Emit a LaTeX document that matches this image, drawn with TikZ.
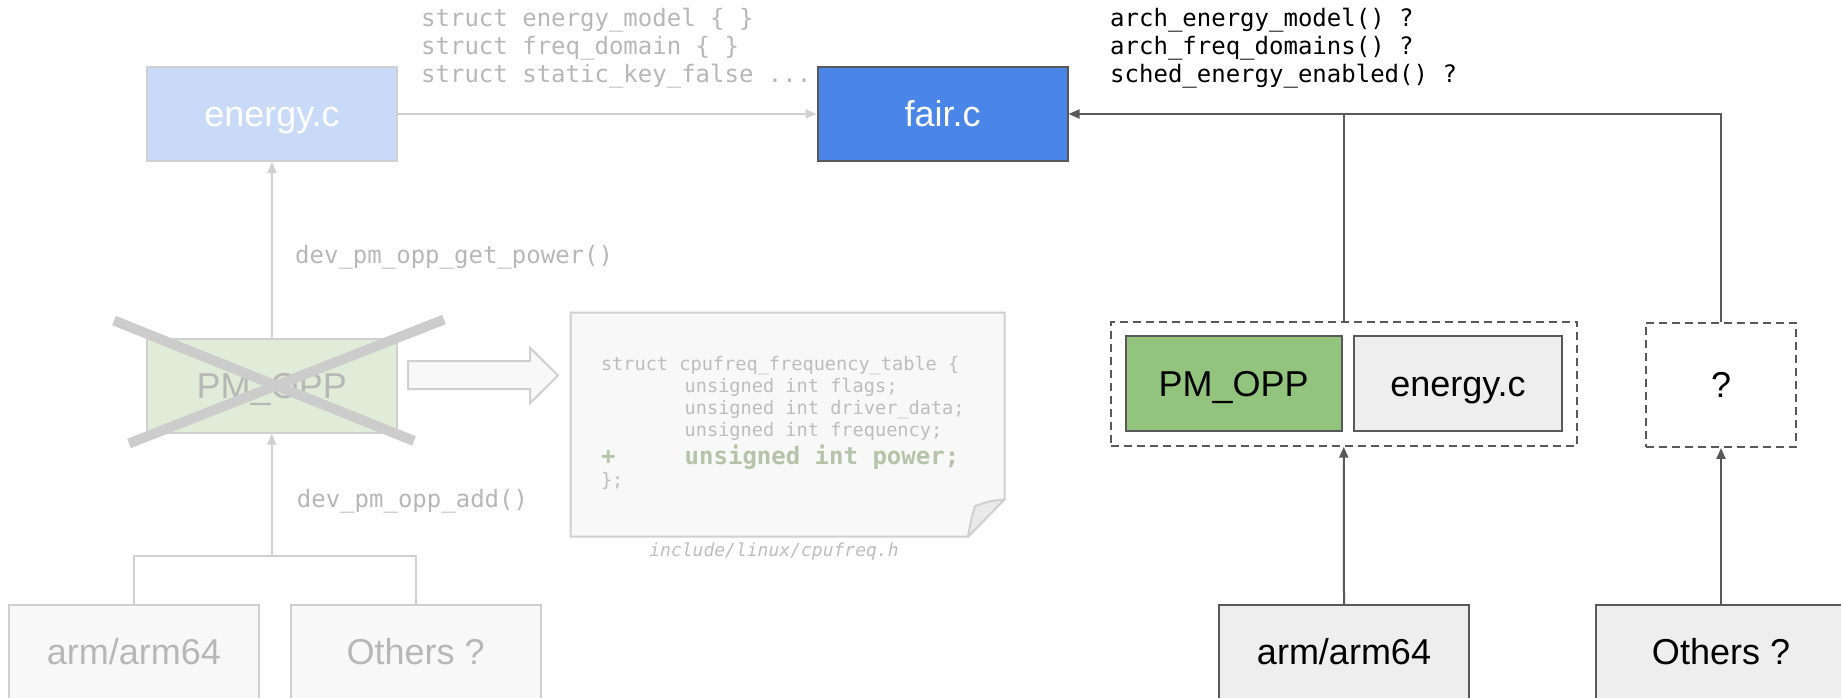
\documentclass[tikz,border=0pt]{standalone}
\usepackage{fontspec}
\setmainfont{Liberation Sans}
\newfontfamily\codefont{DejaVu Sans Mono}
\usetikzlibrary{arrows.meta,calc}

\definecolor{dark}{HTML}{595959}
\definecolor{faint}{HTML}{D0D0D0}
\definecolor{fainttext}{HTML}{B7B7B7}
\definecolor{codegray}{HTML}{BDBDBD}
\definecolor{paleblue}{HTML}{C9DAF8}
\definecolor{palegreen}{HTML}{E0ECD8}
\definecolor{fairblue}{HTML}{4A86E8}
\definecolor{oppgreen}{HTML}{93C47D}
\definecolor{boxgray}{HTML}{EEEEEE}
\definecolor{paper}{HTML}{F8F8F8}
\definecolor{foldgray}{HTML}{EAEAEA}
\definecolor{powergreen}{HTML}{B5C4A8}
\definecolor{crossgray}{HTML}{CCCCCC}

\tikzset{
  box/.style={rectangle, draw=dark, line width=2pt, minimum width=250pt,
    minimum height=94pt, inner sep=0pt, text height=25.8pt, text depth=0pt,
    font=\fontsize{36}{40}\selectfont},
  fadedbox/.style={box, draw=faint},
  code/.style={inner sep=0pt, anchor=west, text height=18.2pt, text depth=5.8pt,
    font=\codefont\fontsize{24}{28}\selectfont},
  notecode/.style={code, text=codegray, text height=14.1pt, text depth=4.5pt,
    font=\codefont\fontsize{18.6}{22}\selectfont},
  darkline/.style={draw=dark, line width=2pt},
  faintline/.style={draw=faint, line width=2pt},
  tip/.style={-{Triangle[length=11pt,width=9pt]}},
  groupbox/.style={rectangle, draw=dark, line width=2pt, dash pattern=on 8pt off 5pt,
    inner sep=0pt},
}

\begin{document}
\begin{tikzpicture}[x=1pt, y=-1pt]
  \useasboundingbox (0,0) rectangle (1841,698);

  % ---------- left half: the original design, greyed out ----------
  \node[fadedbox, fill=paleblue, text=white] (energyL) at (272,114) {energy.c};
  \node[box, fill=fairblue, text=white] (fairc) at (942.5,114) {fair.c};
  \draw[faintline, tip] (energyL.east) -- (fairc.west);

  \node[code, text=fainttext] (s1) at (421,20) {struct energy\_model \{ \}};
  \node[code, text=fainttext] (s2) at (421,48) {struct freq\_domain \{ \}};
  \node[code, text=fainttext] (s3) at (421,76) {struct static\_key\_false ...};

  \node[fadedbox, fill=palegreen, text=fainttext, minimum width=249.5pt] (pmoppL) at (271.75,385.7) {PM\_OPP};
  \draw[faintline, tip] (pmoppL.north) -- (energyL.south);
  \node[code, text=fainttext] (getpower) at (295,257) {dev\_pm\_opp\_get\_power()};

  \node[fadedbox, fill=paper, text=fainttext] (armL) at (134,652) {arm/arm64};
  \node[fadedbox, fill=paper, text=fainttext] (othersL) at (415.6,652) {Others ?};
  \coordinate (branchL) at (pmoppL.south |- 0,555.5);
  \draw[faintline] (armL.north) |- (branchL) -| (othersL.north);
  \draw[faintline, tip] (branchL) -- (pmoppL.south);
  \node[code, text=fainttext] (oppadd) at (296.7,501.7) {dev\_pm\_opp\_add()};

  % strike-through over PM_OPP
  \draw[crossgray, line width=10pt] (114,320.5) -- (414,441);
  \draw[crossgray, line width=10pt] (444,319.5) -- (129,443.5);

  % hollow block arrow towards the header excerpt
  \draw[faint, line width=2pt, fill=paper, line join=miter]
    (408,361) -- (530,361) -- (530,347.7) -- (558,375.5) -- (530,403.3)
    -- (530,389) -- (408,389) -- cycle;

  % header excerpt on a dog-eared sheet
  \draw[faint, line width=2pt, fill=paper]
    (570.6,312.7) -- (1004.6,312.7) -- (1004.6,499.3) -- (968,536.7)
    -- (570.6,536.7) -- cycle;
  \draw[faint, line width=2pt, fill=foldgray, line join=round]
    (1004.6,499.3) .. controls (990,501) .. (975,506)
    .. controls (971,520) .. (968,536.7) -- cycle;

  \node[notecode] (n1) at (600.8,366) {struct cpufreq\_frequency\_table \{};
  \node[notecode] (n2) at (684.5,387.7) {unsigned int flags;};
  \node[notecode] (n3) at (684.5,410) {unsigned int driver\_data;};
  \node[notecode] (n4) at (684.5,432) {unsigned int frequency;};
  \node[code, text=powergreen, font=\codefont\bfseries\fontsize{24}{28}\selectfont] (nplus) at (601,458) {+};
  \node[code, text=powergreen, font=\codefont\bfseries\fontsize{24}{28}\selectfont] (n5) at (684.5,458) {unsigned int power;};
  \node[notecode] (n6) at (600.8,481.7) {\};};
  \node[code, anchor=center, text=codegray, text height=13.7pt, text depth=4.3pt,
    font=\codefont\itshape\fontsize{18}{22}\selectfont] (hdr) at (774,552) {include/linux/cpufreq.h};

  % ---------- right half: the proposed design ----------
  \node[code] (q1) at (1110,20) {arch\_energy\_model() ?};
  \node[code] (q2) at (1110,48) {arch\_freq\_domains() ?};
  \node[code] (q3) at (1110,76) {sched\_energy\_enabled() ?};

  \node[groupbox, minimum width=466.5pt, minimum height=124pt] (grp) at (1343.75,383.7) {};
  \node[box, fill=oppgreen, text=black, minimum width=216pt, minimum height=94.7pt] (pmoppR) at (1233.7,383.4) {PM\_OPP};
  \node[box, fill=boxgray, text=black, minimum width=208pt, minimum height=95pt] (energyR) at (1458,383.5) {energy.c};
  \node[groupbox, minimum width=150pt, minimum height=124.3pt, font=\fontsize{36}{40}\selectfont,
    text height=25.8pt, text depth=0pt] (qbox) at (1721,384.8) {?};

  \node[box, fill=boxgray, text=black] (armR) at (1344,652) {arm/arm64};
  \node[box, fill=boxgray, text=black] (othersR) at (1721,652) {Others ?};

  \draw[darkline, tip] (armR.north) -- (grp.south);
  \draw[darkline, tip] (othersR.north) -- (qbox.south);
  \draw[darkline, tip] (grp.north) |- (fairc.east);
  \draw[darkline] (qbox.north) |- (grp.north |- fairc.east);
\end{tikzpicture}
\end{document}
